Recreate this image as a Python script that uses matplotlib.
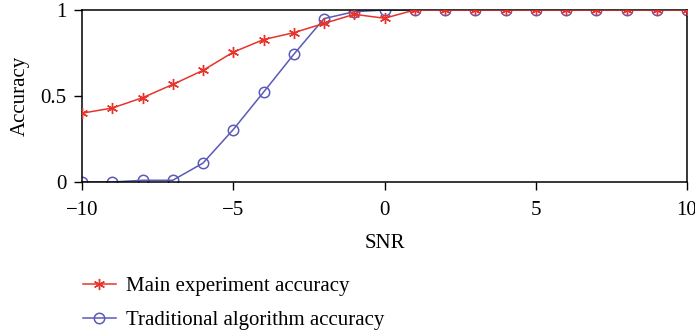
import matplotlib
matplotlib.use("Agg")
import matplotlib.pyplot as plt

snr = list(range(-10, 11))
main_acc = [0.40, 0.43, 0.49, 0.567, 0.649, 0.755, 0.828, 0.868, 0.922, 0.975, 0.952,
            1, 1, 1, 1, 1, 1, 1, 1, 1, 1]
trad_acc = [0.0, 0.0, 0.01, 0.01, 0.11, 0.305, 0.522, 0.742, 0.95, 0.99, 1.0,
            1, 1, 1, 1, 1, 1, 1, 1, 1, 1]
xticks = [-10, -5, 0, 5, 10]
yticks = [0, 0.5, 1]
ytick_labels = ["0", "0.5", "1"]

plt.rcParams['font.family'] = ['Liberation Serif', 'DejaVu Serif']
plt.rcParams['axes.unicode_minus'] = True

fig = plt.figure(figsize=(6.95, 3.36), dpi=100)
ax = fig.add_axes([82/695, 1-182/336, (687-82)/695, (182-10)/336])

red = '#e8332b'
blue = '#5a5ab8'
fs = 15
ax.plot(snr, main_acc, color=red, lw=1.1, marker=(6, 2, 0), ms=8, mew=1.0,
        label='Main experiment accuracy', zorder=3)
ax.plot(snr, trad_acc, color=blue, lw=1.1, marker='o', ms=7.5, mfc='none', mew=1.1,
        label='Traditional algorithm accuracy', zorder=2)

ax.set_xlim(-10, 10)
ax.set_ylim(0, 1)
ax.set_xticks(xticks)
ax.set_yticks(yticks)
ax.set_yticklabels(ytick_labels)
ax.tick_params(axis='x', direction='out', length=6, width=1, labelsize=fs, pad=8)
ax.tick_params(axis='y', direction='out', length=6, width=1, labelsize=fs, pad=5)
for s in ax.spines.values():
    s.set_linewidth(1.1)
ax.set_xlabel('SNR', fontsize=fs, labelpad=10)
ax.set_ylabel('Accuracy', fontsize=fs, labelpad=8)

leg = fig.legend(loc='upper left', bbox_to_anchor=(64/695, 1-258/336), frameon=False,
                 fontsize=fs, handlelength=1.6, labelspacing=0.7, handletextpad=0.48)

fig.savefig('out.png', dpi=100)
